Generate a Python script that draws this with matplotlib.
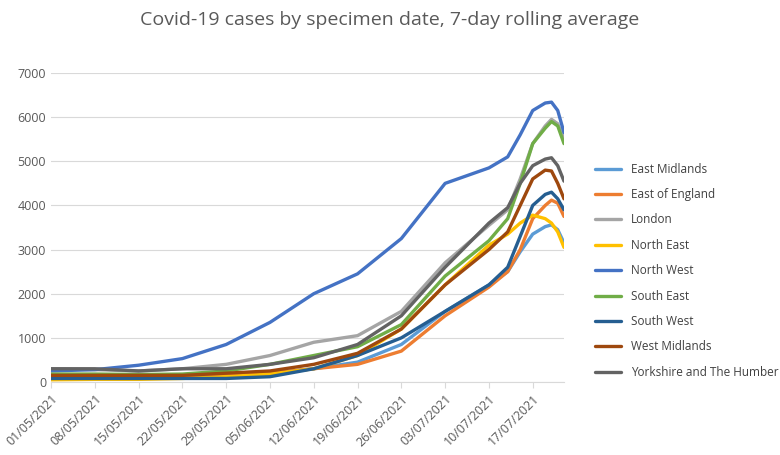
import matplotlib
matplotlib.use("Agg")
import matplotlib.pyplot as plt
import matplotlib.dates as mdates
import pandas as pd

plt.rcParams['font.family'] = ['Open Sans', 'DejaVu Sans']

dates = pd.to_datetime(['2021-05-01', '2021-05-08', '2021-05-15', '2021-05-22', '2021-05-29',
                        '2021-06-05', '2021-06-12', '2021-06-19', '2021-06-26', '2021-07-03',
                        '2021-07-10', '2021-07-13', '2021-07-15', '2021-07-17', '2021-07-19',
                        '2021-07-20', '2021-07-21', '2021-07-22'])

east_midlands = [100, 100, 100, 100, 120, 200, 300, 450, 850, 1600, 2200, 2500, 2950, 3350, 3520, 3560, 3450, 3150]
east_of_england = [150, 150, 120, 120, 150, 200, 300, 400, 700, 1500, 2150, 2500, 3000, 3700, 4000, 4120, 4050, 3750]
london = [300, 280, 250, 300, 400, 600, 900, 1050, 1600, 2700, 3550, 3900, 4600, 5400, 5800, 5950, 5850, 5500]
north_east = [50, 60, 60, 80, 120, 180, 300, 600, 1200, 2200, 3100, 3350, 3600, 3780, 3700, 3600, 3400, 3050]
north_west = [250, 280, 380, 530, 850, 1350, 2000, 2450, 3250, 4500, 4850, 5100, 5600, 6150, 6320, 6340, 6150, 5650]
south_east = [180, 180, 170, 180, 250, 400, 600, 800, 1300, 2400, 3200, 3700, 4500, 5400, 5750, 5900, 5800, 5400]
south_west = [80, 80, 80, 80, 80, 120, 300, 600, 1000, 1600, 2200, 2600, 3300, 4000, 4250, 4300, 4150, 3900]
west_midlands = [150, 150, 150, 150, 200, 250, 400, 650, 1200, 2200, 3000, 3400, 4000, 4600, 4800, 4780, 4500, 4150]
yorkshire = [300, 300, 250, 300, 300, 400, 550, 850, 1500, 2600, 3600, 3950, 4500, 4900, 5050, 5080, 4900, 4550]

series = [
    ('East Midlands', east_midlands, '#5B9BD5'),
    ('East of England', east_of_england, '#ED7D31'),
    ('London', london, '#A5A5A5'),
    ('North East', north_east, '#FFC000'),
    ('North West', north_west, '#4472C4'),
    ('South East', south_east, '#70AD47'),
    ('South West', south_west, '#255E91'),
    ('West Midlands', west_midlands, '#9E480E'),
    ('Yorkshire and The Humber', yorkshire, '#636363'),
]

fig = plt.figure(figsize=(7.8, 4.55), dpi=100)
ax = fig.add_axes([51/780, 1-382/455, (564-51)/780, (382-73)/455])
for name, vals, col in series:
    ax.plot(dates, vals, color=col, lw=2.4, label=name, solid_capstyle='round')

ax.set_ylim(0, 7000)
ax.set_yticks(range(0, 7001, 1000))
ax.set_xlim(pd.Timestamp('2021-05-01'), pd.Timestamp('2021-07-22'))
ax.set_xticks(pd.date_range('2021-05-01', '2021-07-17', freq='7D'))
ax.xaxis.set_major_formatter(mdates.DateFormatter('%d/%m/%Y'))
plt.setp(ax.get_xticklabels(), rotation=45, ha='right', rotation_mode='anchor')
ax.tick_params(axis='both', labelsize=9, colors='#595959', length=0)
ax.tick_params(axis='x', length=4, color='#d9d9d9')
ax.grid(axis='y', color='#d9d9d9', lw=0.8)
for s in ['top', 'right', 'left']:
    ax.spines[s].set_visible(False)
ax.spines['bottom'].set_color('#d9d9d9')

fig.suptitle('Covid-19 cases by specimen date, 7-day rolling average', y=0.975, fontsize=14, color='#595959')
ax.legend(loc='center left', bbox_to_anchor=(1.04, 0.36), frameon=False, fontsize=8.5,
          labelspacing=1.05, handlelength=2.2, labelcolor='#404040')

fig.savefig('out.png', dpi=100)
